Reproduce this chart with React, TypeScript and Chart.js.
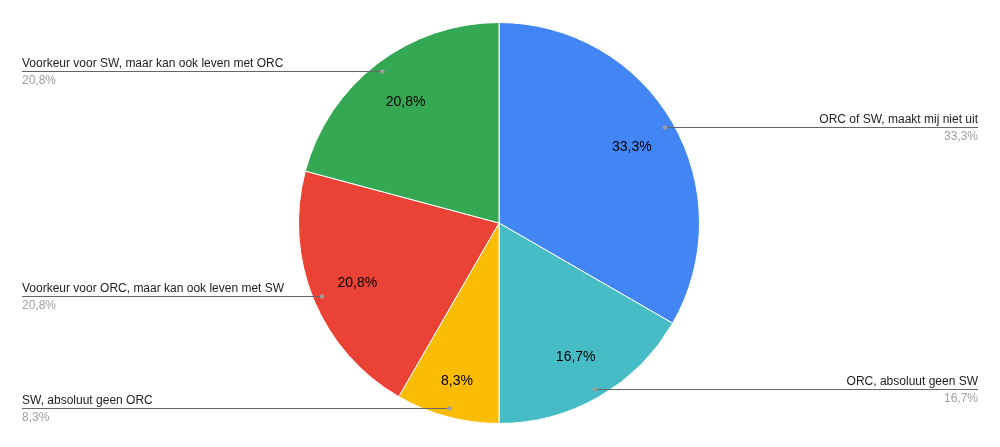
import React, { useEffect, useRef } from "react";
import { Chart, registerables } from "chart.js";

Chart.register(...registerables);

const categories = [
  "ORC of SW, maakt mij niet uit",
  "ORC, absoluut geen SW",
  "SW, absoluut geen ORC",
  "Voorkeur voor ORC, maar kan ook leven met SW",
  "Voorkeur voor SW, maar kan ook leven met ORC",
];
const values = [8, 4, 2, 5, 5];
const percentLabels = ["33,3%", "16,7%", "8,3%", "20,8%", "20,8%"];
const colors = ["#4285F4", "#46BDC6", "#FBBC04", "#EA4335", "#34A853"];

const labelPlugin = {
  id: "leaderLabels",
  afterDatasetsDraw(chart: any) {
    const ctx = chart.ctx;
    const meta = chart.getDatasetMeta(0);
    const W = chart.width;
    ctx.save();
    meta.data.forEach((arc: any, i: number) => {
      const { x, y, startAngle, endAngle, outerRadius } = arc.getProps(
        ["x", "y", "startAngle", "endAngle", "outerRadius"],
        true
      );
      const mid = (startAngle + endAngle) / 2;
      const span = endAngle - startAngle;
      // inner percentage (narrow slices pushed outward)
      const ri = outerRadius * (span < 0.6 ? 0.81 : 0.765);
      ctx.fillStyle = "#000000";
      ctx.font = "14px 'Liberation Sans', Arial, sans-serif";
      ctx.textAlign = "center";
      ctx.textBaseline = "middle";
      ctx.fillText(percentLabels[i], x + Math.cos(mid) * ri, y + Math.sin(mid) * ri + 1);
      // leader
      const rd = outerRadius * 0.955;
      const dx = x + Math.cos(mid) * rd;
      const dy = Math.round(y + Math.sin(mid) * rd) + 0.5;
      const right = Math.cos(mid) > 0;
      const endX = right ? W - 22 : 22;
      ctx.strokeStyle = "#666666";
      ctx.lineWidth = 1;
      ctx.beginPath();
      ctx.moveTo(dx, dy);
      ctx.lineTo(endX, dy);
      ctx.stroke();
      ctx.fillStyle = "#9e9e9e";
      ctx.beginPath();
      ctx.arc(dx, dy, 2.2, 0, Math.PI * 2);
      ctx.fill();
      ctx.font = "12px 'Liberation Sans', Arial, sans-serif";
      ctx.textAlign = right ? "right" : "left";
      ctx.fillStyle = "#222222";
      ctx.fillText(categories[i], endX, dy - 8);
      ctx.fillStyle = "#9e9e9e";
      ctx.fillText(percentLabels[i], endX, dy + 9);
    });
    ctx.restore();
  },
};

export default function App() {
  const ref = useRef<HTMLCanvasElement>(null);
  useEffect(() => {
    const chart = new Chart(ref.current!, {
      type: "pie",
      data: {
        labels: categories,
        datasets: [
          {
            data: values,
            backgroundColor: colors,
            borderColor: "#ffffff",
            borderWidth: 1,
          },
        ],
      },
      options: {
        animation: false,
        responsive: false,
        maintainAspectRatio: false,
        layout: { padding: { top: 22, bottom: 23, left: 0, right: 2 } },
        plugins: {
          legend: { display: false },
          tooltip: { enabled: false },
        },
      },
      plugins: [labelPlugin],
    });
    return () => chart.destroy();
  }, []);
  return (
    <div style={{ position: "fixed", left: 0, top: 0, width: 1000, height: 447, background: "#fff" }}>
      <canvas ref={ref} width={1000} height={447} style={{ width: 1000, height: 447 }} />
    </div>
  );
}
